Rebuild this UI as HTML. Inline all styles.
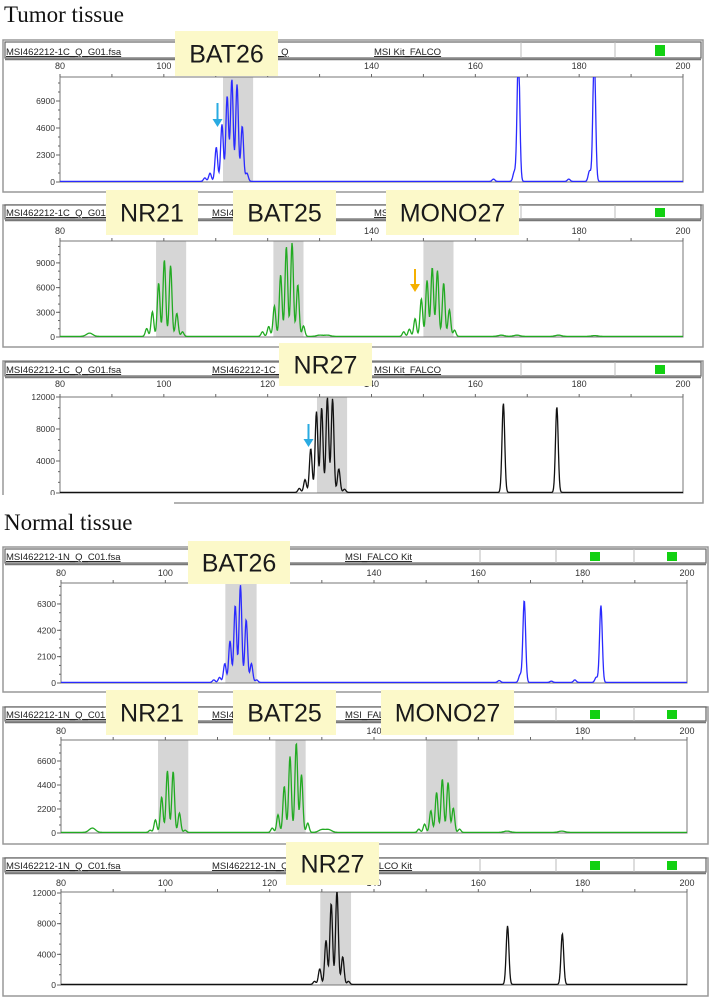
<!DOCTYPE html>
<html><head><meta charset="utf-8">
<style>
html,body{margin:0;padding:0;background:#fff;}
svg{display:block;font-family:"Liberation Sans",Arial,sans-serif;}
</style></head>
<body>
<svg id="fig" width="710" height="1000" viewBox="0 0 710 1000" xmlns="http://www.w3.org/2000/svg">
<text x="4" y="22" font-family="Liberation Serif,serif" font-size="23" fill="#111">Tumor tissue</text>
<text x="4" y="530" font-family="Liberation Serif,serif" font-size="23" fill="#111">Normal tissue</text>
</svg>
<script>
// ---- data (bp positions and RFU heights) ----
const xTicks = [80,100,120,140,160,180,200];

const t1Pos = [107.9,108.9,110.1,111.2,112.2,113.1,114.1,115.1,116.0,163.5,167.5,168.3,178.0,182.0,182.9];
const t1Hgt = [300,700,2900,4860,7270,8690,8260,4710,700,200,800,11000,200,900,11000];
const t1YTicks = [0,2300,4600,6900];
const t1BandLo = [111.4];
const t1BandHi = [117.2];

const t2Pos = [96.7,97.8,99.0,100.1,101.3,102.5,103.6, 119.0,120.2,121.3,122.5,123.6,124.7,125.8,126.9, 146.2,147.3,148.4,149.6,150.7,151.7,152.7,153.9,155.0,156.0];
const t2Hgt = [960,3000,6480,9280,8600,2800,560, 560,1200,3700,7480,10900,11360,6280,1280, 560,880,2160,4560,6800,8360,8000,6480,3240,760];
const t2BumpPos = [85.7,130.0,131.5,165.0,168.0,176.0,183.0];
const t2BumpHgt = [400,150,150,150,150,150,100];
const t2YTicks = [0,3000,6000,9000];
const t2BandLo = [98.5,121.1,150.0];
const t2BandHi = [104.3,126.9,155.8];

const t3Pos = [126.1,127.2,128.3,129.4,130.4,131.5,132.5,133.7,134.8,165.4,175.7];
const t3Hgt = [500,1600,5470,10100,10600,11870,11700,2950,400,11150,10700];
const t3YTicks = [0,4000,8000,12000];
const t3BandLo = [129.5];
const t3BandHi = [135.3];

const n1Pos = [109.3,110.4,111.4,112.4,113.4,114.4,115.5,116.5,117.5,164.0,168.0,168.8,174.0,178.5,182.6,183.5];
const n1Hgt = [200,400,1500,3300,6140,7750,5000,1500,200,150,600,6550,100,200,400,6140];
const n1YTicks = [0,2100,4200,6300];
const n1BandLo = [111.5];
const n1BandHi = [117.5];

const n2Pos = [97.1,98.1,99.3,100.4,101.5,102.7,103.8, 120.5,121.6,122.8,123.9,125.1,126.1,127.3, 148.6,149.7,150.9,152.0,153.1,154.2,155.2,156.4];
const n2Hgt = [200,1160,3240,5650,5590,1770,200, 400,1620,4220,6970,8190,5290,860, 300,760,1990,3670,4890,4580,2230,300];
const n2BumpPos = [86.0,130.0,131.3,165.5,176.0];
const n2BumpHgt = [400,250,250,120,120];
const n2YTicks = [0,2200,4400,6600];
const n2BandLo = [98.6,121.1,150.0];
const n2BandHi = [104.4,126.9,156.0];

const n3Pos = [128.6,129.6,130.8,131.8,132.9,134.0,135.1,165.6,176.1];
const n3Hgt = [400,2020,5750,10560,12220,3600,400,7640,6610];
const n3YTicks = [0,4000,8000,12000];
const n3BandLo = [129.7];
const n3BandHi = [135.6];

// ---- layout ----
const NS = "http://www.w3.org/2000/svg";
const svg = document.getElementById("fig");
function mk(tag, attrs, parent){
  const e = document.createElementNS(NS, tag);
  for (const k in attrs) e.setAttribute(k, attrs[k]);
  (parent||svg).appendChild(e);
  return e;
}

const panels = [
  {id:"tumor-bat26", box:[3,40,703,192], hdr:[42,58], plot:[60,77,683,182], tickY:69, yMax:8944, color:"#2a2aff", pos:t1Pos, hgt:t1Hgt, yt:t1YTicks, blo:t1BandLo, bhi:t1BandHi, sq:[655], hdrText:["MSI462212-1C_Q_G01.fsa","MSI462212-1C_Q","MSI Kit_FALCO"], seps:[521,615]},
  {id:"tumor-nr21-bat25-mono27", box:[3,205,703,347], hdr:[205,219], plot:[60,241,683,337], tickY:234, yMax:11660, color:"#22aa22", pos:t2Pos, hgt:t2Hgt, bp:t2BumpPos, bh:t2BumpHgt, yt:t2YTicks, blo:t2BandLo, bhi:t2BandHi, sq:[655], hdrText:["MSI462212-1C_Q_G01.fsa","MSI462212-1C_Q","MSI Kit_FALCO"], seps:[521,615]},
  {id:"tumor-nr27", box:[3,361,703,503], hdr:[362,376], plot:[60,397,683,493], tickY:387, yMax:12000, color:"#111", pos:t3Pos, hgt:t3Hgt, yt:t3YTicks, blo:t3BandLo, bhi:t3BandHi, sq:[655], hdrText:["MSI462212-1C_Q_G01.fsa","MSI462212-1C_Q","MSI Kit_FALCO"], seps:[521,615], cut:true},
  {id:"normal-bat26", box:[3,547,708,692], hdr:[549,563], plot:[61,583,687,683], tickY:576, yMax:7970, color:"#2a2aff", pos:n1Pos, hgt:n1Hgt, yt:n1YTicks, blo:n1BandLo, bhi:n1BandHi, sq:[590,667], hdrText:["MSI462212-1N_Q_C01.fsa","MSI462212-1N_Q","MSI_FALCO Kit"], seps:[480,556,634]},
  {id:"normal-nr21-bat25-mono27", box:[3,707,708,844], hdr:[707,721], plot:[61,740,687,833], tickY:734, yMax:8525, color:"#22aa22", pos:n2Pos, hgt:n2Hgt, bp:n2BumpPos, bh:n2BumpHgt, yt:n2YTicks, blo:n2BandLo, bhi:n2BandHi, sq:[590,667], hdrText:["MSI462212-1N_Q_C01.fsa","MSI462212-1N_Q","MSI_FALCO Kit"], seps:[480,556,634]},
  {id:"normal-nr27", box:[3,858,708,996], hdr:[858,872], plot:[61,892,687,985], tickY:886, yMax:12130, color:"#111", pos:n3Pos, hgt:n3Hgt, yt:n3YTicks, blo:n3BandLo, bhi:n3BandHi, sq:[590,667], hdrText:["MSI462212-1N_Q_C01.fsa","MSI462212-1N_Q","MSI_FALCO Kit"], seps:[480,556,634]}
];

panels.forEach((p, pi) => {
  const g = mk("g", {});
  
  
  const [bx0,by0,bx1,by1] = p.box;
  const [L,T,R,B] = p.plot;
  const sx = v => L + (v - 80) / 120 * (R - L);
  const sy = v => B - v / p.yMax * (B - T);

  const box = mk("rect", {x:bx0, y:by0, width:bx1-bx0, height:by1-by0, fill:"#fff", stroke:"#999", "stroke-width":1.5}, g);
  
  
  const hb = mk("rect", {x:bx0+2, y:p.hdr[0], width:bx1-bx0-4, height:p.hdr[1]-p.hdr[0], fill:"#fff", stroke:"#666", "stroke-width":1.2}, g);
  
  
  mk("line", {x1:bx0+2, y1:p.hdr[1]+1.5, x2:bx1-2, y2:p.hdr[1]+1.5, stroke:"#777", "stroke-width":1.5}, g);
  p.seps.forEach(xs => mk("line", {x1:xs, y1:p.hdr[0], x2:xs, y2:p.hdr[1], stroke:"#bbb", "stroke-width":1}, g));
  const hx = [6, 212, p.sq.length>1 ? 345 : 374];
  p.hdrText.forEach((t, i) => {
    const tx = mk("text", {x:hx[i], y:p.hdr[1]-3, "font-size":9.5, fill:"#222", "text-decoration":"underline"}, g);
    tx.textContent = t;
    
    
  });
  p.sq.forEach(x => {
    const s = mk("rect", {x:x, y:p.hdr[0]+3, width:10, height:p.hdr[1]-p.hdr[0]-5, fill:"#12d012"}, g);
    
    
  });

  p.blo.forEach((lo, i) => {
    const b = mk("rect", {x:sx(lo), y:T, width:sx(p.bhi[i]) - sx(lo), height:B-T, fill:"#d6d6d6"}, g);
    
    
  });

  const fr = mk("rect", {x:L, y:T, width:R-L, height:B-T, fill:"none", stroke:"#777", "stroke-width":1}, g);
  
  

  for (let v = 80; v <= 200; v += 10) {
    mk("line", {x1:sx(v), y1:T, x2:sx(v), y2:T-3, stroke:"#666", "stroke-width":1}, g);
  }
  xTicks.forEach(v => {
    const t = mk("text", {x:sx(v), y:p.tickY, "font-size":9, "text-anchor":"middle", fill:"#333"}, g);
    t.textContent = v;
    
    
  });
  const step = p.yt[1] - p.yt[0];
  for (let v = 0; v <= p.yMax; v += step/3) {
    mk("line", {x1:L, y1:sy(v), x2:L-2, y2:sy(v), stroke:"#666", "stroke-width":1}, g);
  }
  p.yt.forEach(v => {
    mk("line", {x1:L, y1:sy(v), x2:L-4, y2:sy(v), stroke:"#666", "stroke-width":1}, g);
    const t = mk("text", {x:L-5, y:sy(v)+3, "font-size":8.5, "text-anchor":"end", fill:"#333"}, g);
    t.textContent = v;
    
    
  });

  const sig = 0.26;
  let d = "";
  for (let px = L; px <= R; px += 0.5) {
    const bp = 80 + (px - L) / (R - L) * 120;
    let y = 0;
    p.pos.forEach((c, i) => { const z = (bp - c) / sig; y += p.hgt[i] * Math.exp(-0.5*z*z); });
    if (p.bp) p.bp.forEach((c, i) => { const z = (bp - c) / 0.6; y += p.bh[i] * Math.exp(-0.5*z*z); });
    const yy = Math.max(T - 2, sy(y) - 0.6);
    d += (d ? "L" : "M") + px.toFixed(1) + "," + yy.toFixed(1);
  }
  const cp = mk("clipPath", {id:"clip"+pi}, g);
  mk("rect", {x:L, y:T, width:R-L, height:B-T+1}, cp);
  const tr = mk("path", {d:d, fill:"none", stroke:p.color, "stroke-width":1.3, "clip-path":"url(#clip"+pi+")"}, g);
  
  

  if (p.cut) {
    mk("rect", {x:0, y:495, width:174, height:12, fill:"#fff"}, g);
  }
});

function arrow(x, y0, y1, color, name){
  const a = mk("g", {});
  
  
  mk("line", {x1:x, y1:y0, x2:x, y2:y1-6, stroke:color, "stroke-width":2}, a);
  mk("polygon", {points:(x-5)+","+(y1-8)+" "+(x+5)+","+(y1-8)+" "+x+","+y1, fill:color}, a);
}
arrow(217.5, 103, 127, "#29abe2", "bat26-tumor-arrow");
arrow(415, 269, 292, "#f5b000", "mono27-tumor-arrow");
arrow(308.5, 424, 447, "#29abe2", "nr27-tumor-arrow");

const labelText = ["BAT26","NR21","BAT25","MONO27","NR27","BAT26","NR21","BAT25","MONO27","NR27"];
const labelBoxes = [[175,31,278,76],[106,190,198,235],[233,190,336,235],[386,190,519,235],[279,343,372,386],
                    [188,541,290,584],[106,690,198,735],[233,690,336,735],[381,690,514,735],[286,842,379,885]];
labelBoxes.forEach((b, i) => {
  const g = mk("g", {});
  
  
  mk("rect", {x:b[0], y:b[1], width:b[2]-b[0], height:b[3]-b[1], fill:"#fcf9c9"}, g);
  const t = mk("text", {x:(b[0]+b[2])/2, y:(b[1]+b[3])/2 + 9, "font-size":25, "text-anchor":"middle", fill:"#1a1a1a"}, g);
  t.textContent = labelText[i];
});
</script>
</body></html>
